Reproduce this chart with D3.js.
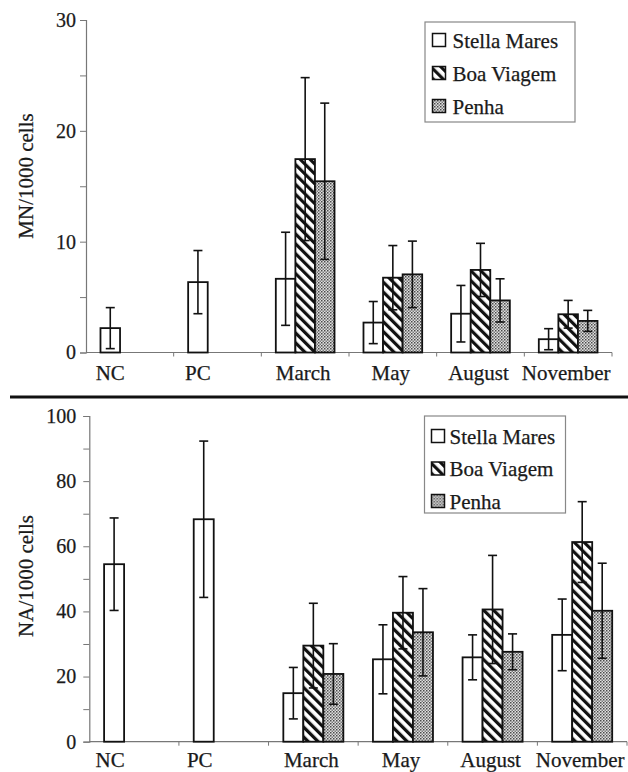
<!DOCTYPE html>
<html>
<head>
<meta charset="utf-8">
<script src="https://cdn.jsdelivr.net/npm/d3@7"></script>
<style>
  body { margin: 0; background: #fff; }
</style>
</head>
<body>
<svg id="chart" width="628" height="772"></svg>
<script>
// categories + series
const categories = ['NC', 'PC', 'March', 'May', 'August', 'November'];
const seriesNames = ['Stella Mares', 'Boa Viagem', 'Penha'];

// MN/1000 cells (mean, sd) -- controls only have one value
const mnStella = [2.2, 6.35, 6.65, 2.7, 3.5, 1.2];
const mnStellaSd = [1.85, 2.85, 4.2, 1.9, 2.55, 0.95];
const mnBoa = [null, null, 17.45, 6.75, 7.45, 3.45];
const mnBoaSd = [null, null, 7.35, 2.9, 2.4, 1.25];
const mnPenha = [null, null, 15.45, 7.05, 4.7, 2.85];
const mnPenhaSd = [null, null, 7.05, 3.0, 1.95, 0.95];
const mnTicks = [0, 10, 20, 30];

// NA/1000 cells
const naStella = [54.5, 68.3, 14.9, 25.3, 25.9, 32.8];
const naStellaSd = [14.2, 24.0, 7.9, 10.6, 6.9, 11.0];
const naBoa = [null, null, 29.5, 39.6, 40.6, 61.3];
const naBoaSd = [null, null, 13.0, 11.1, 16.6, 12.4];
const naPenha = [null, null, 20.8, 33.6, 27.6, 40.2];
const naPenhaSd = [null, null, 9.3, 13.4, 5.5, 14.6];
const naTicks = [0, 20, 40, 60, 80, 100];

const serif = '"Liberation Serif", "Times New Roman", serif';

const svg = d3.select('#chart')
    .style('font-family', serif);
const defs = svg.append('defs');

// hatch for Boa Viagem
const hatch = defs.append('pattern')
    .attr('id', 'hatch')
    .attr('patternUnits', 'userSpaceOnUse')
    .attr('width', 7).attr('height', 7)
    .attr('patternTransform', 'rotate(-45)');
hatch.append('rect').attr('width', 7).attr('height', 7).attr('fill', '#fff');
hatch.append('rect').attr('x', 0).attr('width', 3.2).attr('height', 7).attr('fill', '#111');

// stipple for Penha
const dots = defs.append('pattern')
    .attr('id', 'dots')
    .attr('patternUnits', 'userSpaceOnUse')
    .attr('width', 3).attr('height', 3);
dots.append('rect').attr('width', 3).attr('height', 3).attr('fill', '#e0e0e0');
dots.append('rect').attr('width', 1.5).attr('height', 1.5).attr('fill', '#4a4a4a');
dots.append('rect').attr('x', 1.5).attr('y', 1.5).attr('width', 1.5).attr('height', 1.5).attr('fill', '#7a7a7a');

const fills = ['#fff', 'url(#hatch)', 'url(#dots)'];

// plain serif text, a touch heavier like the scanned figure
const styleText = (sel, size) => sel
    .style('font-family', serif)
    .style('font-size', size + 'px')
    .attr('fill', '#1a1a1a')
    .attr('stroke', '#1a1a1a')
    .attr('stroke-width', 0.25);

const drawPanel = (opts) => {
    let g = svg.append('g');

    let x = d3.scaleBand()
        .domain(categories)
        .range(opts.xRange)
        .padding(0);
    let xs = d3.scaleBand()
        .domain(seriesNames)
        .range([0, x.bandwidth()])
        .paddingInner(0)
        .paddingOuter(0.74);
    let y = d3.scaleLinear()
        .domain(opts.yDomain)
        .range(opts.yRange);

    // y axis
    let yAxis = d3.axisLeft(y)
        .tickValues(opts.minorTicks)
        .tickSize(6)
        .tickFormat(d => opts.ticks.includes(d) ? d : '');
    let ya = g.append('g')
        .attr('transform', `translate(${opts.xRange[0]},0)`)
        .call(yAxis);
    ya.select('.domain').attr('stroke', '#777').attr('stroke-width', 1.2);
    ya.selectAll('.tick line').attr('stroke', '#777');
    styleText(ya.selectAll('.tick text').attr('x', -opts.tickGap), 20);

    // x axis, ticks at band edges
    let xa = g.append('g')
        .attr('transform', `translate(0,${opts.yRange[0]})`);
    xa.append('line')
        .attr('x1', opts.xRange[0]).attr('x2', opts.xRange[1])
        .attr('stroke', '#777').attr('stroke-width', 1.2);
    xa.selectAll('.xt')
        .data(categories.slice(1).concat(['end']))
        .join('line')
        .attr('class', 'xt')
        .attr('x1', (d, i) => x.range()[0] + (i + 1) * x.step())
        .attr('x2', (d, i) => x.range()[0] + (i + 1) * x.step())
        .attr('y1', 0).attr('y2', 4)
        .attr('stroke', '#777');
    // controls (single bar) get their label under the bar, others under the group
    let xl = xa.selectAll('.xl')
        .data(categories)
        .join('text')
        .attr('class', 'xl')
        .attr('x', (d, i) => opts.series[1].values[i] === null
            ? x(d) + xs(seriesNames[0]) + xs.bandwidth() / 2 + opts.ctrlShift
            : x(d) + x.bandwidth() / 2 - 2)
        .attr('y', opts.labelDy)
        .attr('text-anchor', 'middle')
        .text(d => d);
    styleText(xl, 21);

    // bars
    let rows = [];
    opts.series.forEach((s, si) => {
        categories.forEach((c, ci) => {
            if (s.values[ci] === null) return;
            rows.push({ cat: c, name: seriesNames[si], si: si, v: s.values[ci], sd: s.sd[ci] });
        });
    });

    g.selectAll('.bar')
        .data(rows)
        .join('rect')
        .attr('class', 'bar')
        .attr('x', d => x(d.cat) + xs(d.name))
        .attr('y', d => y(d.v))
        .attr('width', xs.bandwidth())
        .attr('height', d => y(0) - y(d.v))
        .attr('fill', d => fills[d.si])
        .attr('stroke', '#111')
        .attr('stroke-width', 1.8);

    // error bars
    let eb = g.selectAll('.err')
        .data(rows)
        .join('g')
        .attr('class', 'err')
        .attr('transform', d => `translate(${x(d.cat) + xs(d.name) + xs.bandwidth() / 2},0)`)
        .attr('stroke', '#111')
        .attr('stroke-width', 1.6);
    eb.append('line')
        .attr('y1', d => y(Math.max(0, d.v - d.sd)))
        .attr('y2', d => y(d.v + d.sd));
    eb.append('line')
        .attr('x1', -4.5).attr('x2', 4.5)
        .attr('y1', d => y(d.v + d.sd)).attr('y2', d => y(d.v + d.sd));
    eb.append('line')
        .attr('x1', -4.5).attr('x2', 4.5)
        .attr('y1', d => y(Math.max(0, d.v - d.sd))).attr('y2', d => y(Math.max(0, d.v - d.sd)));

    // y title
    let yt = g.append('text')
        .attr('transform', `translate(${opts.titleX},${opts.titleY}) rotate(-90)`)
        .attr('text-anchor', 'middle')
        .text(opts.title);
    styleText(yt, 21);

    // legend
    let lg = g.append('g').attr('transform', `translate(${opts.legend[0]},${opts.legend[1]})`);
    lg.append('rect')
        .attr('width', opts.legend[2]).attr('height', opts.legend[3])
        .attr('fill', '#fff').attr('stroke', '#888').attr('stroke-width', 1.2);
    let items = lg.selectAll('.li')
        .data(seriesNames)
        .join('g')
        .attr('class', 'li')
        .attr('transform', (d, i) => `translate(0,${opts.legendRow0 + i * opts.legendStep})`);
    items.append('rect')
        .attr('x', opts.swatchX).attr('y', -6.5)
        .attr('width', 13).attr('height', 13)
        .attr('fill', (d, i) => fills[i])
        .attr('stroke', '#111').attr('stroke-width', 1.5);
    let lt = items.append('text')
        .attr('x', opts.swatchX + opts.textGap)
        .attr('dy', '0.36em')
        .text(d => d);
    styleText(lt, 21);
};

drawPanel({
    xRange: [86, 612],
    yDomain: [0, 30],
    yRange: [352.5, 20],
    ticks: mnTicks,
    minorTicks: [0, 5, 10, 15, 20, 25, 30],
    tickGap: 10,
    series: [
        { values: mnStella, sd: mnStellaSd },
        { values: mnBoa, sd: mnBoaSd },
        { values: mnPenha, sd: mnPenhaSd }
    ],
    labelDy: 27.5,
    ctrlShift: 0,
    title: 'MN/1000 cells',
    titleX: 33,
    titleY: 176,
    legend: [425, 22, 150, 100],
    legendRow0: 18,
    legendStep: 33,
    swatchX: 7.5,
    textGap: 20
});

// separator
svg.append('line')
    .attr('x1', 10).attr('x2', 628)
    .attr('y1', 397).attr('y2', 397)
    .attr('stroke', '#111').attr('stroke-width', 3);

drawPanel({
    xRange: [89.3, 627],
    yDomain: [0, 100],
    yRange: [741.7, 416],
    ticks: naTicks,
    minorTicks: d3.range(0, 101, 10),
    tickGap: 13,
    series: [
        { values: naStella, sd: naStellaSd },
        { values: naBoa, sd: naBoaSd },
        { values: naPenha, sd: naPenhaSd }
    ],
    labelDy: 25.8,
    ctrlShift: -4,
    title: 'NA/1000 cells',
    titleX: 33,
    titleY: 576,
    legend: [424.5, 416, 141, 97],
    legendRow0: 20,
    legendStep: 32.5,
    swatchX: 7,
    textGap: 18
});
</script>
</body>
</html>
